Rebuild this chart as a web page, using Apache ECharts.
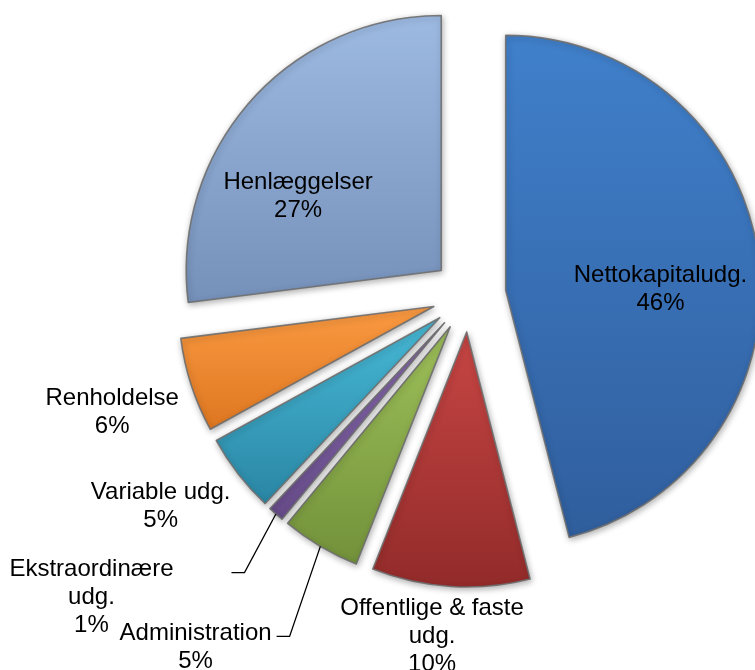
<!DOCTYPE html>
<html>
<head>
<meta charset="utf-8">
<script src="https://cdn.jsdelivr.net/npm/echarts@6/dist/echarts.min.js"></script>
<style>
  html, body { margin: 0; padding: 0; background: #ffffff; }
  #chart { width: 755px; height: 670px; }
</style>
</head>
<body>
<div id="chart"></div>
<script>
// ---- data ----
const categories = [
  'Nettokapitaludg.',
  'Offentlige & faste udg.',
  'Administration',
  'Ekstraordinære udg.',
  'Variable udg.',
  'Renholdelse',
  'Henlæggelser'
];
const values = [46, 10, 5, 1, 5, 6, 27];

// ---- styling (kept separate from data) ----
const gradients = [
  ['#4080cb', '#305e9d'],
  ['#c74644', '#922b2a'],
  ['#9fc15a', '#72913a'],
  ['#8c6db3', '#664b88'],
  ['#47b9d6', '#2a86a4'],
  ['#fa9a42', '#de7620'],
  ['#9dbae2', '#7590b9']
];
const labelInside = [true, false, false, false, false, false, true];
// nudges: inside labels -> relative to default label centre; outside -> relative to default line end
const nudges = [
  [62, 11], [-5, 72], [-121, 120], [-184, 100], [-80, 46], [-85, 34], [-73, -12]
];
// leader lines: [gap from label right edge, horizontal run, vertical shift]
const leaders = { 2: [18, 13, 3], 3: [71, 13, 3] };
const LINE_H = 28;
const CENTER = [469, 295];
const RADIUS = 255;
const EXPLODE = 37;

const chart = echarts.init(document.getElementById('chart'), null, { renderer: 'canvas' });

function wrapName(n) {
  return n.length > 15 ? n.replace(/ udg\.$/, '\nudg.') : n;
}

const pieData = categories.map((name, i) => ({
  name: name,
  value: values[i],
  selected: true,
  itemStyle: {
    color: new echarts.graphic.LinearGradient(0, 0, 0, 1, [
      { offset: 0, color: gradients[i][0] },
      { offset: 1, color: gradients[i][1] }
    ])
  }
}));

const labelData = categories.map((name, i) => ({
  name: name,
  value: values[i],
  label: { position: labelInside[i] ? 'inside' : 'outside' },
  labelLine: {
    show: !labelInside[i],
    lineStyle: { opacity: leaders[i] !== undefined ? 1 : 0 }
  }
}));

chart.setOption({
  animation: false,
  backgroundColor: '#ffffff',
  series: [{
    type: 'pie',
    center: CENTER,
    radius: [0, RADIUS],
    startAngle: 90,
    clockwise: true,
    selectedMode: 'multiple',
    selectedOffset: EXPLODE,
    avoidLabelOverlap: false,
    emphasis: { disabled: true },
    silent: true,
    label: { show: false },
    labelLine: { show: false },
    itemStyle: {
      borderColor: 'rgba(110,110,110,0.9)',
      borderWidth: 1.6,
      shadowBlur: 6,
      shadowColor: 'rgba(0,0,0,0.3)',
      shadowOffsetX: 1,
      shadowOffsetY: 2
    },
    data: pieData
  }, {
    type: 'pie',
    z: 5,
    center: CENTER,
    radius: [0, RADIUS],
    startAngle: 90,
    clockwise: true,
    selectedMode: false,
    avoidLabelOverlap: false,
    emphasis: { disabled: true },
    silent: true,
    itemStyle: { color: 'rgba(0,0,0,0)', borderWidth: 0 },
    label: {
      color: '#000000',
      fontFamily: 'Arial, "Liberation Sans", sans-serif',
      fontSize: 24,
      lineHeight: LINE_H,
      formatter: p => wrapName(p.name) + '\n' + Math.round(p.percent) + '%'
    },
    labelLine: {
      length: 15,
      length2: 15,
      lineStyle: { color: '#000000', width: 1.3 }
    },
    labelLayout: function (p) {
      const i = p.dataIndex;
      const n = nudges[i];
      const r = p.labelRect;
      const pts = p.labelLinePoints;
      let cx, cy;
      if (!labelInside[i] && pts) {
        cx = pts[2][0] + n[0];
        cy = pts[2][1] + n[1];
      } else {
        cx = r.x + r.width / 2 + n[0];
        cy = r.y + r.height / 2 + n[1];
      }
      const out = { x: cx, y: cy, align: 'center', verticalAlign: 'middle' };
      if (pts) {
        const ld = leaders[i];
        const ux = (pts[1][0] - pts[0][0]), uy = (pts[1][1] - pts[0][1]);
        const len = Math.sqrt(ux * ux + uy * uy) || 1;
        const sx = pts[0][0] + ux / len * EXPLODE;
        const sy = pts[0][1] + uy / len * EXPLODE;
        if (ld) {
          const right = cx + r.width / 2;
          const top = cy - r.height / 2;
          const by = top + LINE_H / 2 + ld[2];
          out.labelLinePoints = [[sx, sy], [right + ld[0], by], [right + ld[0] - ld[1], by]];
        } else {
          out.labelLinePoints = [[sx, sy], [sx, sy], [sx, sy]];
        }
      }
      return out;
    },
    data: labelData
  }]
});
</script>
</body>
</html>
